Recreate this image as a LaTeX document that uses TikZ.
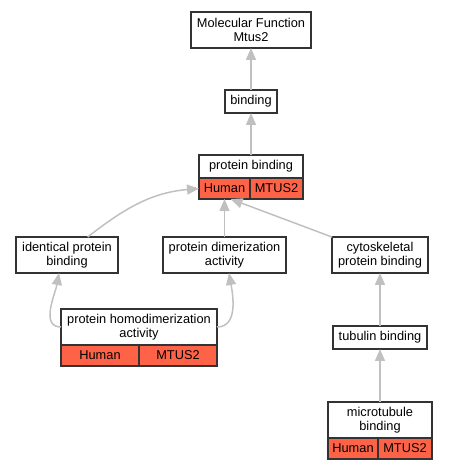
\documentclass[tikz,border=0pt]{standalone}
\usepackage{fontspec}
\setmainfont{Liberation Sans}
\usepackage{xcolor}
\usepackage{tikz}
\usetikzlibrary{arrows.meta,positioning}
\definecolor{tomate}{HTML}{FF6347}
\definecolor{aresta}{HTML}{C0C0C0}

\begin{document}
\begin{tikzpicture}[
  node distance=42pt,
  term/.style={draw=black!80, line width=1.2pt, fill=white, align=center, inner sep=0pt,
               outer sep=0pt, font=\fontsize{12.8}{13.6}\selectfont, minimum height=23pt},
  cell/.style={term, fill=tomate, minimum height=21pt},
  link/.style={-{Triangle[length=12pt,width=10pt]}, draw=aresta, line width=1.5pt}
]
\useasboundingbox (0pt,0pt) rectangle (448pt,469pt);
\node[term, minimum width=120pt, minimum height=36pt] (mf) at (251pt,439pt) {Molecular Function\\Mtus2};
\node[term, minimum width=52pt, below=42pt of mf] (bind) {binding};
\node[term, minimum width=104pt, below=42pt of bind] (pb) {protein binding};
\node[cell, minimum width=51pt, anchor=north west] (pbh) at (pb.south west) {Human};
\node[cell, minimum width=53pt, anchor=north east] (pbm) at (pb.south east) {MTUS2};
\node[term, minimum width=123pt, minimum height=36pt, below=38pt of pbh] (dim) {protein dimerization\\activity};
\node[term, minimum width=102pt, minimum height=36pt, left=45pt of dim] (ident) {identical protein\\binding};
\node[term, minimum width=96pt, minimum height=36pt, right=46pt of dim] (cyto) {cytoskeletal\\protein binding};
\node[term, minimum width=156pt, minimum height=36pt, below=36pt of ident, xshift=72pt] (homo) {protein homodimerization\\activity};
\node[cell, minimum width=78pt, anchor=north west] (homoh) at (homo.south west) {Human};
\node[cell, minimum width=78pt, anchor=north east] (homom) at (homo.south east) {MTUS2};
\node[term, minimum width=94pt, below=53pt of cyto] (tub) {tubulin binding};
\node[term, minimum width=104pt, minimum height=36pt, below=53pt of tub] (micro) {microtubule\\binding};
\node[cell, minimum width=50pt, anchor=north west] (microh) at (micro.south west) {Human};
\node[cell, minimum width=54pt, anchor=north east] (microm) at (micro.south east) {MTUS2};
% is_a edges
\draw[link] (bind) -- (mf);
\draw[link] (pb) -- (bind);
\draw[link] (ident.41) to[out=38, in=185] (pbh.west);
\draw[link] (dim) -- (pbh);
\draw[link] (cyto) -- (pbh.-60);
\draw[link] (homo.west) to[out=180, in=-100] (ident.-114);
\draw[link] (homo.east) to[out=0, in=-80] (dim.-76);
\draw[link] (tub) -- (cyto);
\draw[link] (micro) -- (tub);
\end{tikzpicture}
\end{document}
